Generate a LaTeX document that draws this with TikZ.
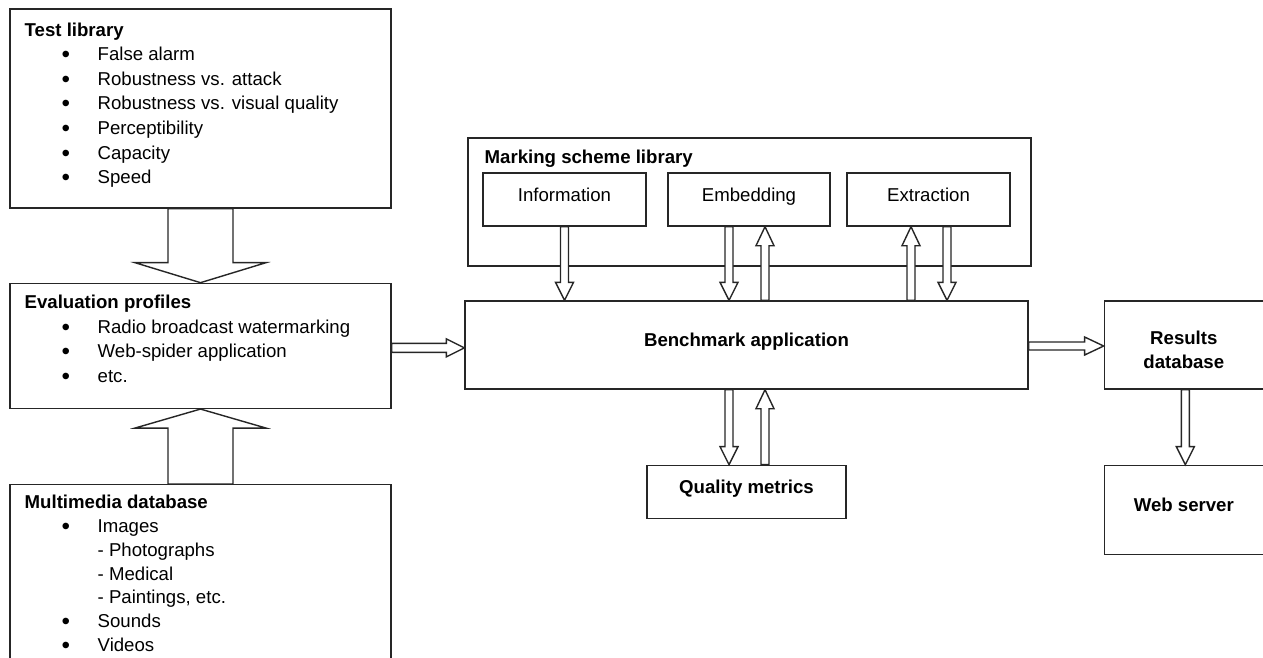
\documentclass[tikz,border=0pt]{standalone}
\usepackage{fontspec}
\setmainfont{Liberation Sans}
\usetikzlibrary{positioning,calc}

% list helpers
\newcommand\bitem{\hspace*{0.74cm}\makebox[0.72cm][l]{\raisebox{-1.1pt}{\scalebox{1.3}{\textbullet}}}}
\newcommand\sitem{\hspace*{1.46cm}}

% hollow block arrow: start, tip, half shaft, half head, head length
\newcommand\blockarrow[5]{%
  \coordinate (ba-h) at ($(#2)!#5!(#1)$);
  \draw[fat] ($(#1)!#3!90:(#2)$) -- ($(ba-h)!#3!90:(#2)$) -- ($(ba-h)!#4!90:(#2)$)
    -- (#2) -- ($(ba-h)!#4!-90:(#2)$) -- ($(ba-h)!#3!-90:(#2)$) -- ($(#1)!#3!-90:(#2)$) -- cycle;
}

\begin{document}
\begin{tikzpicture}[
    x=0.02cm, y=-0.02cm,
    box/.style={rectangle, draw=black!85, line width=0.8pt, inner sep=0pt},
    title/.style={font=\fontsize{10.6}{13.7}\selectfont\bfseries},
    plain/.style={font=\fontsize{10.6}{14}\selectfont},
    lifted/.style={text height=8pt, text depth=6pt},
    list/.style={anchor=north west, align=left, inner sep=0pt, font=\fontsize{10.6}{14}\selectfont},
    fat/.style={draw=black!85, line width=0.8pt, fill=white, line join=miter},
    node distance=1.5cm
]
\useasboundingbox (0,0) rectangle (1263,657);
\clip (0,0) rectangle (1263,657);

% Left column
\node[box, minimum width=7.62cm, minimum height=3.98cm] (testlib) at (200.5,108.5) {};
\node[box, minimum width=7.62cm, minimum height=2.5cm, below=1.48cm of testlib] (evalprof) {};
\node[box, minimum width=7.62cm, minimum height=4.5cm, below=1.5cm of evalprof] (mmdb) {};

\node[list] (testtxt) at ($(testlib.north west)+(15,14)$) {\textbf{Test library}\\
  \bitem False alarm\\
  \bitem Robustness vs. attack\\
  \bitem Robustness vs. visual quality\\
  \bitem Perceptibility\\
  \bitem Capacity\\
  \bitem Speed};
\node[list] (evaltxt) at ($(evalprof.north west)+(15,12)$) {\textbf{Evaluation profiles}\\
  \bitem Radio broadcast watermarking\\
  \bitem Web-spider application\\
  \bitem etc.};
\node[list, font=\fontsize{10.6}{13.5}\selectfont] (mmtxt) at ($(mmdb.north west)+(15,11)$) {\textbf{Multimedia database}\\
  \bitem Images\\
  \sitem - Photographs\\
  \sitem - Medical\\
  \sitem - Paintings, etc.\\
  \bitem Sounds\\
  \bitem Videos};

% Marking scheme library
\node[box, minimum width=11.26cm, minimum height=2.56cm] (marking) at (749.5,202) {};
\node[title, anchor=west, inner sep=0pt] (marktitle) at ($(marking.north west)+(17,21)$) {Marking scheme library};
\node[box, plain, lifted, minimum width=3.26cm, minimum height=1.06cm] (info) at (564.5,199.5) {Information};
\node[box, plain, lifted, minimum width=3.24cm, minimum height=1.06cm] (embed) at (749,199.5) {Embedding};
\node[box, plain, lifted, minimum width=3.26cm, minimum height=1.06cm] (extract) at (928.5,199.5) {Extraction};

% Benchmark and outputs
\node[box, title, lifted, minimum width=11.26cm, minimum height=1.76cm] (bench) at (746.5,345) {Benchmark application};
\node[box, title, lifted, minimum width=3.98cm, minimum height=1.06cm, below=1.5cm of bench] (quality) {Quality metrics};
\node[box, minimum width=3.18cm, minimum height=1.76cm, right=1.5cm of bench] (results) {};
\node[title, align=center] (restxt) at ([yshift=-0.1cm]results.center) {Results\\database};
\node[box, title, lifted, minimum width=3.18cm, minimum height=1.78cm, below=1.5cm of results] (websrv) {Web server};

% Big arrows
\blockarrow{testlib.south}{evalprof.north}{0.65cm}{1.31cm}{0.4cm}
\blockarrow{mmdb.north}{evalprof.south}{0.65cm}{1.31cm}{0.38cm}

% Small arrows
\coordinate (i1) at (info.south);
\coordinate (i2) at (i1 |- bench.north);
\blockarrow{i1}{i2}{0.08cm}{0.18cm}{0.36cm}

\coordinate (ed1) at ($(embed.south)+(-20,0)$);
\coordinate (ed2) at (ed1 |- bench.north);
\blockarrow{ed1}{ed2}{0.08cm}{0.18cm}{0.36cm}
\coordinate (eu1) at ($(embed.south)+(16,0)$);
\coordinate (eu2) at (eu1 |- bench.north);
\blockarrow{eu2}{eu1}{0.08cm}{0.18cm}{0.38cm}

\coordinate (xu1) at ($(extract.south)+(-17.5,0)$);
\coordinate (xu2) at (xu1 |- bench.north);
\blockarrow{xu2}{xu1}{0.08cm}{0.18cm}{0.38cm}
\coordinate (xd1) at ($(extract.south)+(18.5,0)$);
\coordinate (xd2) at (xd1 |- bench.north);
\blockarrow{xd1}{xd2}{0.08cm}{0.18cm}{0.36cm}

\coordinate (qd1) at ($(bench.south)+(-17.5,0)$);
\coordinate (qd2) at (qd1 |- quality.north);
\blockarrow{qd1}{qd2}{0.08cm}{0.18cm}{0.36cm}
\coordinate (qu1) at ($(bench.south)+(18.5,0)$);
\coordinate (qu2) at (qu1 |- quality.north);
\blockarrow{qu2}{qu1}{0.08cm}{0.18cm}{0.38cm}

\coordinate (e1) at ($(evalprof.east)+(0,2)$);
\coordinate (e2) at (e1 -| bench.west);
\blockarrow{e1}{e2}{0.09cm}{0.18cm}{0.36cm}
\coordinate (r1) at ($(bench.east)+(0,1)$);
\coordinate (r2) at (r1 -| results.west);
\blockarrow{r1}{r2}{0.08cm}{0.18cm}{0.38cm}
\coordinate (w1) at ($(results.south)+(1.5,0)$);
\coordinate (w2) at (w1 |- websrv.north);
\blockarrow{w1}{w2}{0.08cm}{0.18cm}{0.36cm}

\end{tikzpicture}
\end{document}
